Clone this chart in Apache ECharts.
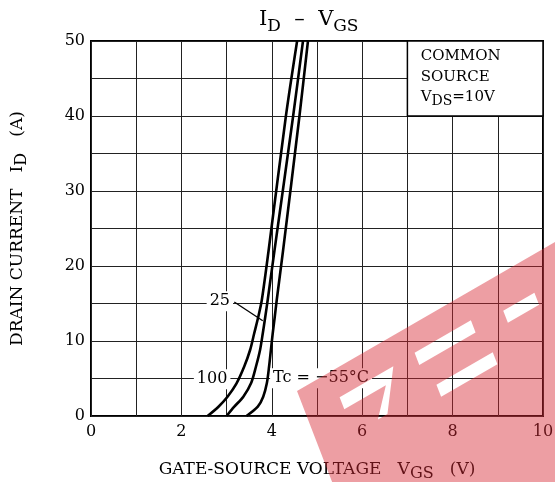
<!DOCTYPE html>
<html>
<head>
<meta charset="utf-8">
<script src="https://cdn.jsdelivr.net/npm/echarts@6/dist/echarts.min.js"></script>
<style>
html, body { margin: 0; padding: 0; background: #fff; }
#chart { width: 555px; height: 482px; }
</style>
</head>
<body>
<div id="chart"></div>
<script>
// tick labels
const vgsLabels = [0, 2, 4, 6, 8, 10]
const idLabels = [0, 10, 20, 30, 40, 50]

// ID (A) vs VGS (V)
const curve100 = [[2.58, 0], [2.82, 1.24], [3.02, 2.57], [3.22, 4.36], [3.39, 6.6], [3.52, 8.8], [3.61, 11.0], [3.70, 13.2], [3.78, 15.5], [3.93, 22.1], [4.31, 39.9], [4.56, 50]]
const curve25 = [[3.00, 0], [3.17, 1.24], [3.37, 2.57], [3.54, 4.36], [3.65, 6.6], [3.74, 8.8], [3.80, 11.0], [3.855, 13.2], [3.91, 15.5], [4.06, 22.1], [4.47, 39.9], [4.69, 50]]
const curveM55 = [[3.44, 0], [3.69, 1.24], [3.81, 2.57], [3.89, 4.36], [3.94, 6.6], [3.98, 8.8], [4.02, 11.0], [4.065, 13.2], [4.11, 15.5], [4.25, 22.1], [4.61, 39.9], [4.80, 50]]

// curve labels: [vgs, id, text]
const curveLabels = [[2.85, 15.3, '25'], [2.68, 4.9, '100'], [5.09, 5.05, 'Tc = −55°C']]
const arrow25 = [[3.17, 15.2], [3.80, 12.7]]

const FONT = 'DejaVu Serif'

function rich(size, subSize, drop) {
    return {
        m: { fontSize: size, fontFamily: FONT, fontWeight: 'normal', color: '#000', verticalAlign: 'bottom', padding: [0, 0, drop, 0] },
        s: { fontSize: subSize, fontFamily: FONT, fontWeight: 'normal', color: '#000', verticalAlign: 'bottom' }
    }
}

const chart = echarts.init(document.getElementById('chart'))

function curveSeries(data, extra) {
    return Object.assign({
        type: 'line',
        data: data,
        smooth: 0.3,
        showSymbol: false,
        lineStyle: { color: '#000', width: 2.6 },
        silent: true
    }, extra || {})
}

// watermark band: local (u, v) frame, keyhole polygon with cut-outs
function toScreen(p) {
    return [297 + 0.866 * p[0] + 0.36 * p[1], 391 - 0.5 * p[0] + 0.933 * p[1]]
}
const W = 480, H = 300
const wm = [
    [0, 0],
    [38, 0], [38, 27], [38, 40], [86, 40], [66, 66], [77, 66], [100, 27], [38, 27], [38, 0],
    [125, 0], [125, 26], [125, 39], [190, 39], [190, 26], [125, 26], [125, 0],
    [224, 0], [224, 34], [224, 47], [260, 47], [260, 34], [224, 34], [224, 0],
    [W, 0], [W, H],
    [134, H], [134, 78], [199, 78], [199, 65], [134, 65], [134, 78], [134, H],
    [0, H]
].map(toScreen)

const option = {
    animation: false,
    backgroundColor: '#fff',
    title: {
        text: '{m|I}{s|D}{m|  –  V}{s|GS}',
        left: 254,
        top: 4,
        textStyle: { fontWeight: 'normal', rich: rich(21, 17, 5) }
    },
    grid: {
        left: 91,
        right: 12,
        top: 41,
        bottom: 66,
        outerBoundsMode: 'none',
        show: true,
        borderColor: '#000',
        borderWidth: 2
    },
    xAxis: {
        type: 'value',
        min: 0,
        max: 10,
        interval: 1,
        axisLine: { show: false },
        axisTick: { show: false },
        splitLine: { show: true, lineStyle: { color: '#222', width: 1 } },
        axisLabel: {
            margin: 8,
            fontFamily: FONT,
            fontSize: 16,
            color: '#000',
            formatter: v => vgsLabels.includes(v) ? String(v) : ''
        },
        name: '{m|GATE-SOURCE VOLTAGE   V}{s|GS}{m|   (V)}',
        nameLocation: 'middle',
        nameGap: 45,
        nameTextStyle: { rich: rich(17, 16, 4) }
    },
    yAxis: {
        type: 'value',
        min: 0,
        max: 50,
        interval: 5,
        axisLine: { show: false },
        axisTick: { show: false },
        splitLine: { show: true, lineStyle: { color: '#222', width: 1 } },
        axisLabel: {
            margin: 6,
            fontFamily: FONT,
            fontSize: 16,
            color: '#000',
            formatter: v => idLabels.includes(v) ? String(v) : ''
        },
        name: '{m|DRAIN CURRENT   I}{s|D}{m|   (A)}',
        nameLocation: 'middle',
        nameRotate: 90,
        nameGap: 61,
        nameTextStyle: { rich: rich(17, 16, 4) }
    },
    series: [
        curveSeries(curve100),
        curveSeries(curve25, {
            markLine: {
                silent: true,
                symbol: ['none', 'arrow'],
                symbolSize: [0, 9],
                label: { show: false },
                lineStyle: { color: '#000', width: 1.3, type: 'solid' },
                data: [[{ coord: arrow25[0] }, { coord: arrow25[1] }]]
            }
        }),
        curveSeries(curveM55, {
            markPoint: {
                silent: true,
                symbolSize: 0,
                data: curveLabels.map(d => ({ coord: [d[0], d[1]], value: d[2] })),
                label: {
                    show: true,
                    position: 'inside',
                    formatter: p => p.value,
                    fontFamily: FONT,
                    fontSize: 16,
                    color: '#000',
                    backgroundColor: '#fff',
                    padding: [2, 3]
                }
            },
            markArea: {
                silent: true,
                itemStyle: { color: '#fff', borderColor: '#000', borderWidth: 1.5 },
                label: {
                    show: true,
                    position: 'insideTopLeft',
                    distance: 0,
                    padding: [5, 0, 0, 14],
                    fontFamily: FONT,
                    fontSize: 15,
                    lineHeight: 21,
                    color: '#000',
                    formatter: 'COMMON\nSOURCE\n{m|V}{s|DS}{m|=10V}',
                    rich: rich(15, 14, 4)
                },
                data: [[{ coord: [7, 50] }, { coord: [10, 40] }]]
            }
        })
    ],
    graphic: [{
        type: 'polygon',
        z: 100,
        silent: true,
        shape: { points: wm },
        style: { fill: 'rgba(214,40,50,0.45)' }
    }]
}

chart.setOption(option)
</script>
</body>
</html>
